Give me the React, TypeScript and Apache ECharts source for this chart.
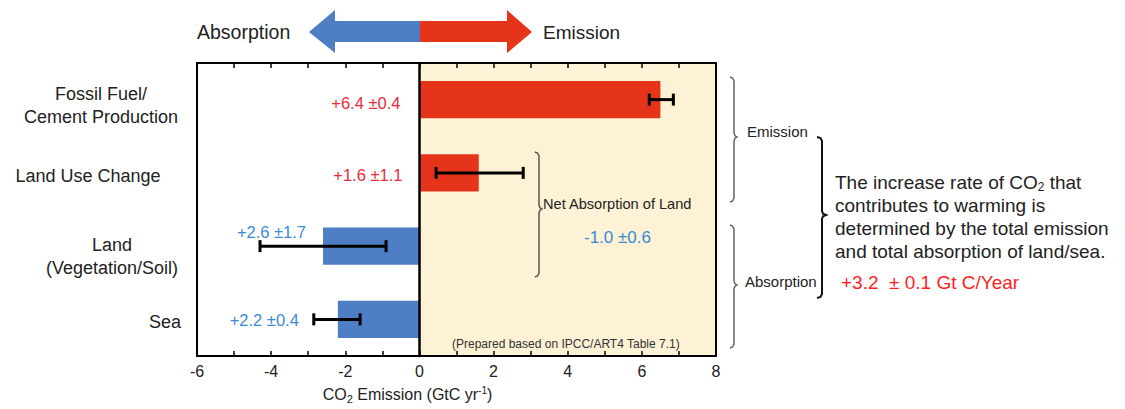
import React, { useEffect, useRef } from "react";
import * as echarts from "echarts";

const categories = ["Fossil Fuel/\nCement Production", "Land Use Change", "Land\n(Vegetation/Soil)", "Sea"];
const barValues = [6.5, 1.6, -2.6, -2.2];
const errLow = [6.2, 0.45, -4.3, -2.85];
const errHigh = [6.85, 2.8, -0.9, -1.6];
const valueLabels = ["+6.4 ±0.4", "+1.6 ±1.1", "+2.6 ±1.7", "+2.2 ±0.4"];
const xMin = -6;
const xMax = 8;
const xInterval = 2;
const emissionZone = [0, 8];
const textLines = [
  "{t|The increase rate of CO}{s|2}{t| that}",
  "{t|contributes to warming is}",
  "{t|determined by the total emission}",
  "{t|and total absorption of land/sea.}",
];
const netLand = "-1.0 ±0.6";
const totalRate = "+3.2  ± 0.1 Gt C/Year";

const RED = "#E6341A";
const BLUE = "#4E7EC4";
const RED_TXT = "#EC2A3A";
const BLUE_TXT = "#3A8AD2";
const FONT = "Liberation Sans";

function brace(xl: number, xv: number, xt: number, y0: number, ym: number, y1: number, color: string, width: number) {
  return {
    type: "polyline",
    silent: true,
    z: 50,
    shape: {
      points: [
        [xl, y0], [xv - 1.5, y0 + 1], [xv, y0 + 4], [xv, ym - 4], [xv + 1, ym - 1.2], [xt, ym],
        [xv + 1, ym + 1.2], [xv, ym + 4], [xv, y1 - 4], [xv - 1.5, y1 - 1], [xl, y1],
      ],
    },
    style: { stroke: color, lineWidth: width, fill: null },
  };
}

function txt(x: number, y: number, text: string, size: number, color: string, extra: any = {}) {
  return {
    type: "text",
    x,
    y,
    z: 50,
    silent: true,
    style: { text, fontSize: size, fill: color, fontFamily: FONT, verticalAlign: "middle", align: "left", ...extra },
  };
}

const catBase = { fontSize: 18, color: "#222", lineHeight: 23, align: "center", fontFamily: FONT };
const catLabelStyle: any = {
  c0: { ...catBase, padding: [12, 0, 0, 0] },
  c1: { ...catBase, padding: [6, 26, 0, 0] },
  c2: { ...catBase, padding: [20, 0, 0, 22] },
  c3: { ...catBase, padding: [6, 0, 0, 128] },
};

const labelPlacement: any[] = [
  { distance: 19, offset: [0, 3], color: RED_TXT },
  { distance: 17, offset: [0, 2], color: RED_TXT },
  { distance: 17, offset: [0, -14], color: BLUE_TXT },
  { distance: 39, offset: [0, 1], color: BLUE_TXT },
];

export default function App() {
  const ref = useRef<HTMLDivElement>(null);
  useEffect(() => {
    if (!ref.current) return;
    const chart = echarts.init(ref.current, undefined, { renderer: "svg" });
    const axisLineStyle = { color: "#000", width: 2 };
    const xCommon: any = {
      type: "value",
      min: xMin,
      max: xMax,
      interval: xInterval,
      z: 10,
      axisLine: { show: true, onZero: false, lineStyle: axisLineStyle },
      axisTick: { show: true, inside: true, length: 5, lineStyle: { color: "#000", width: 1.5 } },
      minorTick: { show: true, splitNumber: 2, length: 5, lineStyle: { color: "#000", width: 1.5 } },
      splitLine: { show: false },
      minorSplitLine: { show: false },
    };
    const option: any = {
      animation: false,
      textStyle: { fontFamily: FONT },
      grid: { left: 197, right: 409, top: 63, bottom: 50 },
      xAxis: [
        {
          ...xCommon,
          position: "bottom",
          axisLabel: { fontSize: 16, color: "#222", margin: 7, fontFamily: FONT },
          name: "{a|CO}{s|2}{a| Emission (GtC yr}{p|-1}{a|)}",
          nameLocation: "middle",
          nameGap: 28,
          nameTextStyle: {
            fontSize: 16,
            color: "#222",
            padding: [0, 98, 0, 0],
            rich: {
              a: { fontSize: 16, color: "#222", fontFamily: FONT },
              s: { fontSize: 11, color: "#222", fontFamily: FONT, padding: [9, 0, 0, 0] },
              p: { fontSize: 10, color: "#222", fontFamily: FONT, padding: [0, 0, 7, 0] },
            },
          },
        },
        { ...xCommon, position: "top", axisLabel: { show: false } },
      ],
      yAxis: [
        {
          type: "category",
          data: categories,
          inverse: true,
          position: "left",
          z: 10,
          axisLine: { show: true, onZero: false, lineStyle: axisLineStyle },
          axisTick: { show: false },
          axisLabel: {
            margin: 96,
            align: "center",
            fontFamily: FONT,
            formatter: (v: string) => {
              const i = categories.indexOf(v);
              return v.split("\n").map((s) => `{c${i}|${s}}`).join("\n");
            },
            rich: catLabelStyle,
          },
        },
        {
          type: "category",
          data: categories,
          inverse: true,
          position: "right",
          z: 10,
          axisLine: { show: true, onZero: false, lineStyle: axisLineStyle },
          axisTick: { show: false },
          axisLabel: { show: false },
        },
        {
          type: "category",
          data: categories,
          inverse: true,
          position: "left",
          z: 10,
          axisLine: { show: true, onZero: true, lineStyle: { color: "#000", width: 2.5 } },
          axisTick: { show: false },
          axisLabel: { show: false },
        },
      ],
      series: [
        {
          type: "bar",
          xAxisIndex: 0,
          yAxisIndex: 0,
          barWidth: "51%",
          data: barValues.map((v, i) => ({
            value: v,
            itemStyle: { color: v >= 0 ? RED : BLUE },
            label: {
              show: true,
              position: "left",
              distance: labelPlacement[i].distance,
              offset: labelPlacement[i].offset,
              color: labelPlacement[i].color,
              fontSize: 16.5,
              fontFamily: FONT,
              formatter: () => valueLabels[i],
            },
          })),
          markArea: {
            silent: true,
            itemStyle: { color: "#FDF2D5" },
            data: [[{ xAxis: emissionZone[0] }, { xAxis: emissionZone[1] }]],
          },
        },
        {
          type: "custom",
          xAxisIndex: 0,
          yAxisIndex: 0,
          z: 4,
          encode: { x: [0, 1], y: 2 },
          data: errLow.map((l, i) => [l, errHigh[i], i]),
          renderItem: (params: any, api: any) => {
            const y = api.value(2);
            const p1 = api.coord([api.value(0), y]);
            const p2 = api.coord([api.value(1), y]);
            const h = 6;
            const st = { stroke: "#000", lineWidth: 3 };
            return {
              type: "group",
              children: [
                { type: "line", shape: { x1: p1[0], y1: p1[1], x2: p2[0], y2: p2[1] }, style: st },
                { type: "line", shape: { x1: p1[0], y1: p1[1] - h, x2: p1[0], y2: p1[1] + h }, style: st },
                { type: "line", shape: { x1: p2[0], y1: p2[1] - h, x2: p2[0], y2: p2[1] + h }, style: st },
              ],
            };
          },
        },
      ],
      graphic: [
        {
          type: "polygon",
          silent: true,
          shape: { points: [[309, 32], [335, 10], [335, 21], [421, 21], [421, 42], [335, 42], [335, 53]] },
          style: { fill: BLUE },
        },
        {
          type: "polygon",
          silent: true,
          shape: { points: [[420, 21], [507, 21], [507, 10], [532, 32], [507, 53], [507, 42], [420, 42]] },
          style: { fill: RED },
        },
        txt(197, 32, "Absorption", 19.5, "#222"),
        txt(543, 32, "Emission", 19, "#222"),
        txt(543, 204, "Net Absorption of Land", 14.6, "#222"),
        txt(584, 237, netLand, 17, BLUE_TXT),
        txt(452, 344, "(Prepared based on IPCC/ART4 Table 7.1)", 12, "#333"),
        txt(747, 131, "Emission", 15, "#222"),
        txt(745, 281, "Absorption", 15, "#222"),
        ...textLines.map((line, i) =>
          txt(835, 182 + i * 23, line, 19, "#222", {
            rich: {
              t: { fontSize: 19, fill: "#222", fontFamily: FONT },
              s: { fontSize: 12, fill: "#222", fontFamily: FONT, padding: [10, 0, 0, 0] },
            },
          })
        ),
        txt(841, 282, totalRate, 19, "#FF1E1E"),
        brace(535, 539, 542, 152, 209, 277, "#555", 1.5),
        brace(730, 734, 737, 77, 137, 202, "#666", 1.5),
        brace(730, 734, 737, 225, 285, 348, "#666", 1.5),
        brace(817, 822, 826, 137, 215, 298, "#111", 2),
      ],
    };
    chart.setOption(option);
    return () => chart.dispose();
  }, []);
  return <div ref={ref} style={{ width: 1125, height: 409, position: "absolute", left: 0, top: 0 }} />;
}
